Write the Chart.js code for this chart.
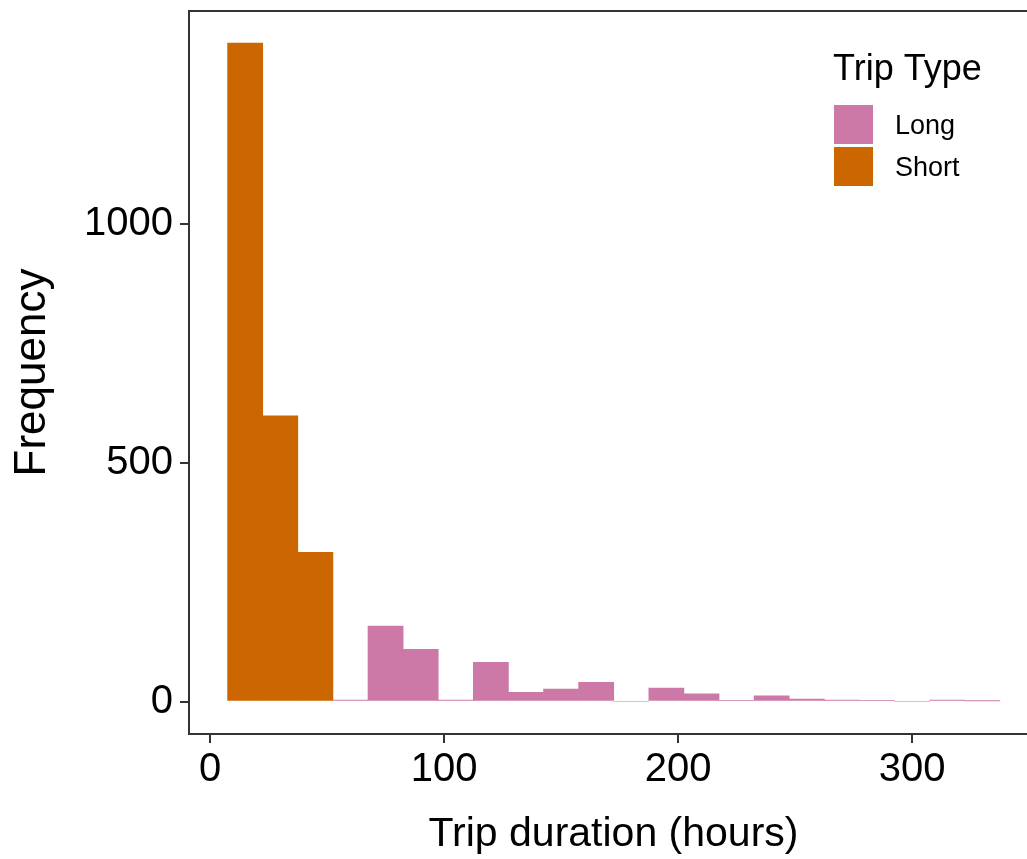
<!DOCTYPE html>
<html>
<head>
<meta charset="utf-8">
<title>Trip duration histogram</title>
<script src="https://cdn.jsdelivr.net/npm/chart.js@4.4.1/dist/chart.umd.min.js"></script>
<style>
  html, body { margin: 0; padding: 0; background: #ffffff; overflow: hidden; }
  #wrap { width: 1027px; height: 859px; overflow: hidden; position: relative; }
  #c { display: block; }
</style>
</head>
<body>
<div id="wrap"><canvas id="c" width="1038" height="859"></canvas></div>
<script>
// 15-hour histogram bins: centre of each bin (hours) and trip counts per type
const shortBins = [15, 30, 45];
const shortFreq = [1378, 598, 312];
const longBins  = [60, 75, 90, 105, 120, 135, 150, 165, 180, 195, 210, 225, 240, 255, 270, 285, 300, 315, 330];
const longFreq  = [3, 158, 109, 3, 82, 19, 26, 40, 0, 28, 16, 2, 12, 5, 3, 2, 0, 3, 1];

// Axis tick values and legend entries
const xTickValues = [0, 100, 200, 300];
const yTickValues = [0, 500, 1000];
const seriesNames = ['Long', 'Short'];
const seriesColors = ['#CC79A7', '#CC6600'];

const FONT = '"Liberation Sans", Arial, Helvetica, sans-serif';
const AXIS_INK = '#333333';

const toPoints = (xs, ys) => xs.map((x, i) => ({ x: x, y: ys[i] }));

// Legend drawn inside the panel, upper right
const tripLegend = {
  id: 'tripLegend',
  afterDraw(chart) {
    const ctx = chart.ctx;
    ctx.save();
    ctx.fillStyle = '#000000';
    ctx.textAlign = 'left';
    ctx.textBaseline = 'alphabetic';
    ctx.font = '36px ' + FONT;
    ctx.fillText('Trip Type', 833, 80);
    chart.data.datasets.forEach((ds, i) => {
      const y = 105 + i * 42;
      ctx.fillStyle = ds.backgroundColor;
      ctx.fillRect(834, y, 39, 39);
      ctx.fillStyle = '#000000';
      ctx.font = '27px ' + FONT;
      ctx.textBaseline = 'alphabetic';
      ctx.fillText(ds.label, 895, y + 29);
    });
    ctx.restore();
  }
};

// Top edge of the panel frame
const panelTop = {
  id: 'panelTop',
  afterDraw(chart) {
    const { ctx, chartArea } = chart;
    ctx.save();
    ctx.strokeStyle = AXIS_INK;
    ctx.lineWidth = 2;
    ctx.beginPath();
    ctx.moveTo(chartArea.left - 1, chartArea.top);
    ctx.lineTo(chartArea.right + 1, chartArea.top);
    ctx.stroke();
    ctx.restore();
  }
};

new Chart(document.getElementById('c'), {
  type: 'bar',
  data: {
    datasets: [
      {
        label: seriesNames[0],
        data: toPoints(longBins, longFreq),
        backgroundColor: seriesColors[0],
        borderWidth: 0
      },
      {
        label: seriesNames[1],
        data: toPoints(shortBins, shortFreq),
        backgroundColor: seriesColors[1],
        borderWidth: 0
      }
    ]
  },
  options: {
    responsive: false,
    animation: false,
    devicePixelRatio: 1,
    barPercentage: 1.0,
    categoryPercentage: 1.0,
    layout: { padding: { top: 11, right: 0, bottom: 0, left: 0 } },
    plugins: {
      legend: { display: false },
      tooltip: { enabled: false },
      title: { display: false }
    },
    scales: {
      x: {
        type: 'linear',
        position: 'bottom',
        stacked: true,
        offset: false,
        min: -9,
        max: 353.8,
        afterBuildTicks: s => { s.ticks = xTickValues.map(v => ({ value: v })); },
        afterFit: s => { s.height = 125; s.paddingLeft = 0; s.paddingRight = 0; },
        grid: { offset: false, drawOnChartArea: false, drawTicks: true, tickLength: 9, color: AXIS_INK, lineWidth: 2 },
        border: { display: true, color: AXIS_INK, width: 2 },
        ticks: {
          color: '#000000',
          font: { family: FONT, size: 40 },
          padding: 3,
          maxRotation: 0,
          autoSkip: false,
          callback: v => String(v)
        },
        title: {
          display: true,
          text: 'Trip duration (hours)',
          color: '#000000',
          font: { family: FONT, size: 41 },
          padding: { top: 0, bottom: 0 }
        }
      },
      y: {
        type: 'linear',
        position: 'left',
        stacked: true,
        min: -68,
        max: 1445,
        afterBuildTicks: s => { s.ticks = yTickValues.map(v => ({ value: v })); },
        afterFit: s => { s.width = 189; s.paddingTop = 0; s.paddingBottom = 0; },
        grid: { drawOnChartArea: false, drawTicks: true, tickLength: 9, color: AXIS_INK, lineWidth: 2 },
        border: { display: true, color: AXIS_INK, width: 2 },
        ticks: {
          color: '#000000',
          font: { family: FONT, size: 40 },
          padding: 7,
          autoSkip: false,
          callback: v => String(v)
        },
        title: {
          display: true,
          text: 'Frequency',
          color: '#000000',
          font: { family: FONT, size: 44 },
          padding: { top: 6, bottom: 0 }
        }
      }
    }
  },
  plugins: [panelTop, tripLegend]
});
</script>
</body>
</html>
